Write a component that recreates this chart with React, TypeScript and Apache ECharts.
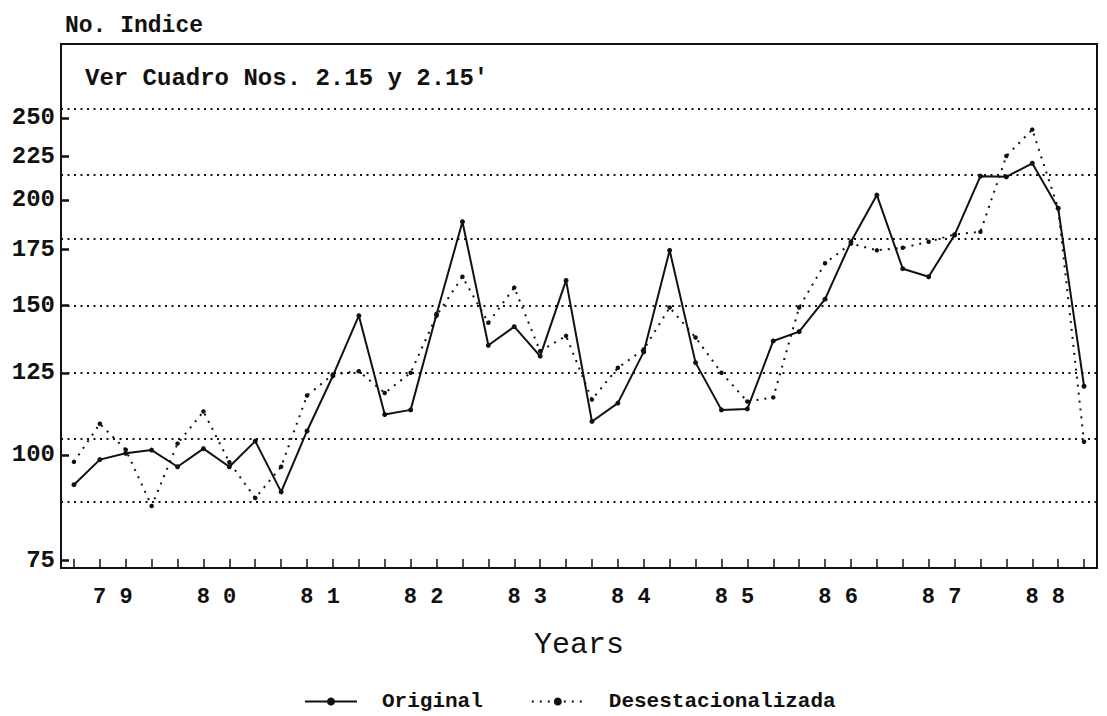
import React, { useEffect, useRef } from 'react';
import * as echarts from 'echarts';

// Quarterly index values, 1979 Q1 .. 1988 Q4
const yearLabels = ['79', '80', '81', '82', '83', '84', '85', '86', '87', '88'];
const quarterNames = ['I', 'II', 'III', 'IV'];
const original = [
  92.2, 98.7, 100.4, 101.3, 96.8, 101.7, 96.8, 103.8,
  90.4, 106.7, 124.0, 146.0, 111.6, 113.0, 146.6, 188.5,
  134.7, 141.7, 130.8, 160.7, 109.5, 115.1, 132.3, 174.4,
  128.5, 113.0, 113.3, 136.3, 139.8, 152.7, 178.5, 202.7,
  165.9, 162.3, 181.8, 213.4, 213.0, 221.0, 195.6, 120.5,
];
const desestacionalizada = [
  98.1, 108.8, 101.4, 87.0, 103.1, 112.5, 98.0, 88.9,
  96.8, 117.5, 124.4, 125.5, 118.3, 125.0, 146.0, 162.3,
  143.2, 157.6, 132.6, 138.2, 116.2, 126.7, 133.2, 149.3,
  137.6, 125.0, 115.6, 116.9, 149.3, 168.4, 177.6, 174.4,
  175.6, 178.5, 182.1, 183.4, 225.4, 242.2, 195.6, 103.6,
];
const yTickValues = [75, 100, 125, 150, 175, 200, 225, 250];
const gridLineValues = [88, 104.5, 125, 150, 180, 214, 256];

const FONT = '"Liberation Mono", "DejaVu Sans Mono", monospace';
const INK = '#111';

export default function App() {
  const ref = useRef<HTMLDivElement>(null);

  useEffect(() => {
    if (!ref.current) return;
    const chart = echarts.init(ref.current, null, { renderer: 'svg' });
    const categories: string[] = [];
    yearLabels.forEach((y) => quarterNames.forEach((q) => categories.push(`${y}-${q}`)));

    chart.setOption({
      animation: false,
      backgroundColor: '#fff',
      title: [
        {
          text: 'No. Indice',
          left: 60,
          top: 9,
          textStyle: { fontFamily: FONT, fontSize: 23, fontWeight: 'bold', color: INK },
        },
        {
          text: "Ver Cuadro Nos. 2.15 y 2.15'",
          left: 80,
          top: 61,
          textStyle: { fontFamily: FONT, fontSize: 24, fontWeight: 'bold', color: INK },
        },
      ],
      grid: {
        left: 61,
        top: 44,
        right: 10,
        bottom: 148,
        show: true,
        borderColor: INK,
        borderWidth: 2,
        backgroundColor: 'transparent',
      },
      legend: {
        left: 299,
        top: 686,
        itemWidth: 52,
        itemHeight: 10,
        itemGap: 48,
        textStyle: {
          fontFamily: FONT,
          fontSize: 21,
          fontWeight: 'bold',
          color: INK,
          padding: [0, 0, 0, 20],
        },
        data: ['Original', 'Desestacionalizada'],
      },
      xAxis: {
        type: 'category',
        data: categories,
        boundaryGap: true,
        name: 'Years',
        nameLocation: 'middle',
        nameGap: 62,
        nameTextStyle: { fontFamily: FONT, fontSize: 30, color: INK },
        axisLine: { show: true, onZero: false, lineStyle: { color: INK, width: 2 } },
        axisTick: {
          show: true,
          inside: true,
          length: 9,
          interval: 0,
          alignWithLabel: true,
          lineStyle: { color: INK, width: 1.5 },
        },
        axisLabel: {
          show: true,
          interval: (idx: number) => idx % 4 === 1,
          margin: 18,
          align: 'center',
          padding: [0, 0, 0, 26],
          fontFamily: FONT,
          fontSize: 22,
          fontWeight: 'bold',
          color: INK,
          formatter: (_v: string, idx: number) => {
            const s = yearLabels[Math.floor(idx / 4)] || '';
            return s.split('').join(' ');
          },
        },
        splitLine: { show: false },
      },
      yAxis: {
        type: 'log',
        logBase: 10,
        min: 73.5,
        max: 305.7,
        axisLine: { show: true, onZero: false, lineStyle: { color: INK, width: 2 } },
        axisTick: {
          show: true,
          inside: true,
          length: 8,
          customValues: yTickValues,
          lineStyle: { color: INK, width: 2.5 },
        },
        axisLabel: {
          show: true,
          customValues: yTickValues,
          margin: 6,
          fontFamily: FONT,
          fontSize: 24,
          fontWeight: 'bold',
          color: INK,
          verticalAlign: 'middle',
          padding: [0, 0, 10, 0],
          formatter: (v: number) => String(Math.round(v)),
        },
        splitLine: { show: false },
      },
      series: [
        {
          name: 'Original',
          type: 'line',
          data: original,
          symbol: 'circle',
          symbolSize: 5,
          itemStyle: { color: INK },
          lineStyle: { color: INK, width: 2 },
          z: 3,
          markLine: {
            silent: true,
            symbol: 'none',
            label: { show: false },
            lineStyle: { color: INK, type: [2, 4.5], width: 1.8 },
            data: gridLineValues.map((v) => ({ yAxis: v })),
          },
        },
        {
          name: 'Desestacionalizada',
          type: 'line',
          data: desestacionalizada,
          symbol: 'circle',
          symbolSize: 4.5,
          itemStyle: { color: INK },
          lineStyle: { color: INK, width: 2, type: [2, 6] },
          z: 2,
        },
      ],
    });

    return () => chart.dispose();
  }, []);

  return (
    <div
      ref={ref}
      style={{ position: 'fixed', left: 0, top: 0, width: 1107, height: 716, background: '#fff' }}
    />
  );
}
